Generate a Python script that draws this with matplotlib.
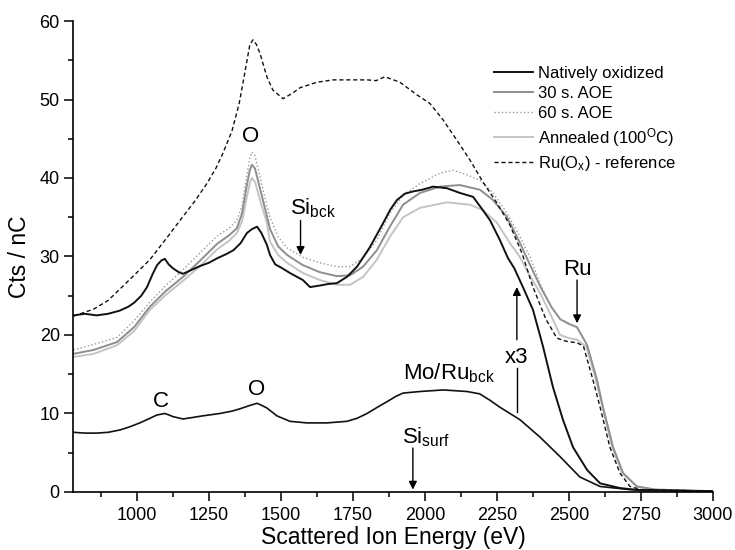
import matplotlib
matplotlib.use("Agg")
import matplotlib.pyplot as plt
from matplotlib.ticker import MultipleLocator

plt.rcParams["font.family"] = ["Liberation Sans", "DejaVu Sans"]
plt.rcParams["mathtext.fontset"] = "custom"
plt.rcParams["mathtext.rm"] = "Liberation Sans"
plt.rcParams["mathtext.it"] = "Liberation Sans:italic"

# natively oxidized, x3 (upper black curve)
native_x3_e = [780, 820, 860, 900, 940, 970, 990, 1015, 1035, 1055, 1070, 1085, 1097,
               1110, 1125, 1145, 1160, 1190, 1220, 1250, 1280, 1310, 1335, 1360, 1382,
               1400, 1417, 1432, 1451, 1462, 1480, 1500, 1531, 1576, 1601, 1635, 1665,
               1694, 1729, 1764, 1809, 1854, 1880, 1903, 1930, 1960, 1990, 2028, 2076,
               2121, 2167, 2201, 2226, 2260, 2288, 2310, 2340, 2375, 2410, 2444, 2479,
               2514, 2563, 2608, 2677, 2750, 3000]
native_x3 = [22.5, 22.7, 22.5, 22.7, 23.1, 23.6, 24.1, 25.0, 26.1, 27.8, 28.9, 29.5, 29.7,
             29.0, 28.5, 28.0, 27.8, 28.3, 28.8, 29.2, 29.8, 30.3, 30.8, 31.7, 33.0,
             33.5, 33.8, 33.0, 31.5, 30.2, 29.0, 28.6, 27.9, 27.0, 26.1, 26.3, 26.5,
             26.6, 27.4, 28.7, 31.2, 34.2, 36.0, 37.2, 38.0, 38.3, 38.5, 38.9, 38.7,
             38.1, 37.6, 35.9, 34.6, 32.1, 29.8, 28.5, 26.1, 23.2, 18.5, 13.4, 9.2,
             5.7, 2.8, 1.1, 0.5, 0.2, 0.1]

# natively oxidized, as measured (lower black curve)
native_e = [780, 820, 860, 900, 941, 975, 1010, 1040, 1069, 1097, 1112, 1125, 1160, 1195,
            1229, 1288, 1330, 1358, 1390, 1417, 1435, 1451, 1486, 1531, 1590, 1660, 1729,
            1765, 1799, 1835, 1868, 1900, 1924, 1983, 2063, 2146, 2190, 2225, 2260, 2330,
            2399, 2469, 2538, 2608, 2712, 3000]
native = [7.6, 7.5, 7.5, 7.6, 7.9, 8.3, 8.8, 9.3, 9.8, 10.0, 9.8, 9.6, 9.3, 9.5,
          9.7, 10.0, 10.3, 10.6, 11.0, 11.3, 11.0, 10.7, 9.7, 9.0, 8.8, 8.8, 9.0,
          9.4, 10.0, 10.8, 11.5, 12.2, 12.6, 12.8, 13.0, 12.8, 12.5, 11.7, 10.8, 9.2,
          7.0, 4.5, 1.9, 0.7, 0.3, 0.1]

aoe60_e = [780, 850, 931, 990, 1045, 1100, 1160, 1220, 1278, 1320, 1347, 1365, 1380, 1392,
           1399, 1410, 1425, 1451, 1462, 1490, 1521, 1576, 1635, 1694, 1740, 1785, 1833,
           1878, 1924, 1983, 2052, 2097, 2146, 2191, 2236, 2285, 2330, 2365, 2400, 2440,
           2470, 2500, 2530, 2563, 2597, 2618, 2653, 2688, 2736, 2800, 3000]
aoe60 = [18.1, 18.8, 19.7, 21.8, 24.2, 26.3, 28.3, 30.5, 32.6, 33.6, 34.6, 36.5, 40.0, 42.6,
         43.3, 42.8, 40.5, 36.5, 35.0, 32.5, 31.1, 29.9, 29.2, 28.7, 28.7, 29.8, 32.1,
         35.5, 37.8, 39.3, 40.6, 41.0, 40.4, 39.7, 38.1, 35.5, 32.5, 29.9, 26.5, 23.5,
         22.0, 21.5, 20.8, 18.7, 14.3, 10.8, 5.7, 2.4, 0.7, 0.3, 0.1]

aoe30_e = [780, 850, 931, 990, 1045, 1100, 1160, 1220, 1278, 1320, 1347, 1365, 1380, 1392,
           1399, 1410, 1425, 1451, 1462, 1490, 1521, 1576, 1635, 1694, 1740, 1785, 1833,
           1878, 1924, 1983, 2052, 2121, 2191, 2236, 2285, 2330, 2365, 2400, 2440, 2470,
           2500, 2528, 2563, 2597, 2618, 2653, 2688, 2736, 2800, 3000]
aoe30 = [17.6, 18.1, 19.1, 21.0, 23.6, 25.6, 27.4, 29.5, 31.6, 32.7, 33.6, 35.5, 38.8, 41.0,
         41.7, 41.2, 39.0, 35.2, 33.5, 31.3, 30.2, 28.9, 28.0, 27.5, 27.6, 28.7, 30.8,
         33.8, 36.6, 38.1, 38.9, 39.1, 38.5, 37.2, 35.0, 31.7, 28.9, 26.2, 23.5, 22.0,
         21.4, 21.0, 18.7, 14.3, 10.8, 5.7, 2.4, 0.7, 0.3, 0.1]

annealed_e = [780, 850, 931, 990, 1045, 1100, 1160, 1220, 1278, 1320, 1347, 1365, 1380,
              1392, 1399, 1410, 1425, 1451, 1462, 1490, 1521, 1576, 1635, 1694, 1740, 1785,
              1833, 1878, 1924, 1983, 2076, 2156, 2201, 2250, 2295, 2330, 2365, 2400, 2440,
              2469, 2500, 2528, 2560, 2590, 2615, 2650, 2685, 2735, 2800, 3000]
annealed = [17.2, 17.6, 18.7, 20.5, 23.2, 25.1, 26.9, 28.8, 30.9, 32.0, 33.0, 34.5, 37.3,
            39.4, 40.0, 39.5, 37.5, 34.3, 31.9, 30.2, 29.2, 27.9, 27.0, 26.4, 26.4, 27.4,
            29.6, 32.5, 35.0, 36.2, 36.9, 36.6, 35.9, 34.3, 31.7, 29.9, 27.5, 25.3, 22.3,
            20.0, 19.6, 19.4, 18.5, 14.8, 11.0, 5.7, 2.4, 0.7, 0.3, 0.1]

ruox_e = [780, 850, 900, 931, 990, 1045, 1100, 1160, 1200, 1243, 1275, 1299, 1330, 1355,
          1375, 1392, 1403, 1415, 1427, 1451, 1472, 1507, 1540, 1566, 1625, 1681, 1740,
          1799, 1830, 1861, 1913, 1972, 2017, 2063, 2111, 2156, 2201, 2250, 2295, 2337,
          2375, 2420, 2458, 2490, 2528, 2550, 2583, 2608, 2642, 2677, 2712, 2750, 3000]
ruox = [22.4, 23.3, 24.4, 25.5, 27.6, 29.6, 32.2, 35.1, 37.0, 39.3, 41.3, 43.2, 46.0, 49.5,
        53.5, 57.0, 57.6, 57.0, 55.9, 52.9, 51.2, 50.1, 50.8, 51.5, 52.2, 52.5, 52.5,
        52.5, 52.4, 52.9, 52.2, 50.6, 49.5, 47.4, 44.8, 42.3, 39.5, 36.8, 34.0, 30.4,
        26.1, 22.0, 19.6, 19.2, 19.0, 18.6, 14.3, 10.8, 5.7, 2.4, 0.7, 0.3, 0.1]

fig = plt.figure(figsize=(7.35, 5.5), dpi=100)
ax = fig.add_axes([0.0993, 0.1055, 0.8708, 0.8563])

h_ann, = ax.plot(annealed_e, annealed, color="#c4c4c4", lw=1.4)
h_30, = ax.plot(aoe30_e, aoe30, color="#8e8e8e", lw=1.4)
h_60, = ax.plot(aoe60_e, aoe60, color="#9a9a9a", lw=1.0, ls=":")
h_nat, = ax.plot(native_x3_e, native_x3, color="#111111", lw=1.4)
ax.plot(native_e, native, color="#111111", lw=1.2)
h_ru, = ax.plot(ruox_e, ruox, color="#111111", lw=1.0, ls=(0, (3, 2)))

ax.legend([h_nat, h_30, h_60, h_ann, h_ru],
          ["Natively oxidized", "30 s. AOE", "60 s. AOE",
           r"Annealed (100$^{\mathrm{O}}$C)", r"Ru(O$_{\mathrm{x}}$) - reference"],
          loc="upper left", bbox_to_anchor=(0.64, 0.93), frameon=False,
          fontsize=12, handlelength=2.35, handletextpad=0.3, labelspacing=0.3,
          borderpad=0.2)

ax.set_xlim(778, 3000)
ax.set_ylim(0, 60)
ax.xaxis.set_major_locator(MultipleLocator(250))
ax.xaxis.set_minor_locator(MultipleLocator(125))
ax.yaxis.set_major_locator(MultipleLocator(10))
ax.yaxis.set_minor_locator(MultipleLocator(5))
ax.set_xticks(range(1000, 3001, 250))
ax.spines["top"].set_visible(False)
ax.spines["right"].set_visible(False)
for s in ["left", "bottom"]:
    ax.spines[s].set_linewidth(1.2)
ax.tick_params(which="major", direction="out", length=6.5, width=1.1, labelsize=13, pad=3)
ax.tick_params(axis="x", which="major", pad=4)
ax.tick_params(which="minor", direction="out", length=3.5, width=1.1)
ax.set_xlabel("Scattered Ion Energy (eV)", fontsize=16.5, labelpad=1.5)
ax.set_ylabel("Cts / nC", fontsize=16.5, labelpad=6)

arrow = dict(arrowstyle="-|>", color="black", lw=1.0, mutation_scale=12,
             shrinkA=0, shrinkB=0)
fs = 16

ax.text(1395, 44.6, "O", fontsize=fs, ha="center", va="baseline")
ax.text(1531, 35.3, r"Si$_{\mathrm{bck}}$", fontsize=fs, ha="left", va="baseline")
ax.annotate("", xy=(1568, 30.2), xytext=(1568, 34.6), arrowprops=arrow)

ax.text(2528, 27.6, "Ru", fontsize=fs, ha="center", va="baseline")
ax.annotate("", xy=(2528, 21.5), xytext=(2528, 27.0), arrowprops=arrow)

ax.text(2316, 16.4, "x3", fontsize=fs, ha="center", va="baseline")
ax.annotate("", xy=(2319, 26.1), xytext=(2319, 19.4), arrowprops=arrow)
ax.plot([2319, 2319], [10.2, 15.8], color="black", lw=1.0)

ax.text(1082, 10.8, "C", fontsize=fs, ha="center", va="baseline")
ax.text(1415, 12.4, "O", fontsize=fs, ha="center", va="baseline")
ax.text(1925, 14.3, r"Mo/Ru$_{\mathrm{bck}}$", fontsize=fs, ha="left", va="baseline")

ax.text(1920, 6.2, r"Si$_{\mathrm{surf}}$", fontsize=fs, ha="left", va="baseline")
ax.annotate("", xy=(1958, 0.3), xytext=(1958, 5.6), arrowprops=arrow)

fig.savefig("out.png", dpi=100)
